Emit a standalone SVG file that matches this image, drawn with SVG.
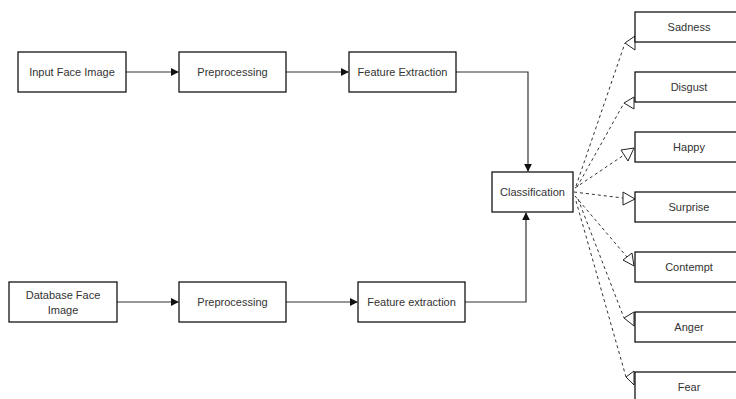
<svg xmlns="http://www.w3.org/2000/svg" width="736" height="399" viewBox="0 0 736 399">
<style>
.box{fill:#fff;stroke:#000;stroke-width:1.2}
.t{font-family:"Liberation Sans",Arial,sans-serif;font-size:11px;fill:#333;text-anchor:middle;dominant-baseline:central}
.c{fill:none;stroke:#333;stroke-width:1.2}
.d{fill:none;stroke:#333;stroke-width:1;stroke-dasharray:3 3}
.h{fill:#fff;stroke:#222;stroke-width:1}
</style>
<defs>
<marker id="a" viewBox="0 0 10 10" refX="9" refY="5" markerWidth="8" markerHeight="8" markerUnits="userSpaceOnUse" orient="auto">
<path d="M0,0 L10,5 L0,10 z" fill="#111"/>
</marker>
</defs>
<rect width="736" height="399" fill="#fff"/>
<g id="connectors">
<path class="c" d="M126,72 H178" marker-end="url(#a)"/>
<path class="c" d="M286,72 H348" marker-end="url(#a)"/>
<path class="c" d="M456,72 H528 V171" marker-end="url(#a)"/>
<path class="c" d="M117,302 H178" marker-end="url(#a)"/>
<path class="c" d="M286,302 H357" marker-end="url(#a)"/>
<path class="c" d="M465,302 H526 V213" marker-end="url(#a)"/>
<path class="d" d="M576,186 L625,43"/>
<path class="d" d="M577,187 L624,103"/>
<path class="d" d="M575,188 L624,155"/>
<path class="d" d="M574,192 L623,198"/>
<path class="d" d="M575,196 L627,257"/>
<path class="d" d="M578,199 L624,318"/>
<path class="d" d="M576,201 L626,377"/>
<polygon class="h" points="625,43 635,36 635,50"/>
<polygon class="h" points="624,103 634,97 634,109"/>
<polygon class="h" points="621,150 634,148 628,161"/>
<polygon class="h" points="623,192 635,199 623,205"/>
<polygon class="h" points="623,260 632,253 634,266"/>
<polygon class="h" points="624,318 634,312 634,326"/>
<polygon class="h" points="626,377 634,371 634,385"/>
</g>
<g id="input"><rect class="box" x="18" y="52" width="108" height="40"/><text class="t" x="72" y="72">Input Face Image</text></g>
<g id="pre1"><rect class="box" x="179" y="52" width="107" height="40"/><text class="t" x="232.5" y="72">Preprocessing</text></g>
<g id="fe1"><rect class="box" x="349" y="52" width="107" height="40"/><text class="t" x="402.5" y="72">Feature Extraction</text></g>
<g id="db"><rect class="box" x="9" y="282" width="108" height="40"/><text class="t" x="63" y="295">Database Face</text><text class="t" x="63" y="310">Image</text></g>
<g id="pre2"><rect class="box" x="179" y="282" width="107" height="40"/><text class="t" x="232.5" y="302">Preprocessing</text></g>
<g id="fe2"><rect class="box" x="358" y="282" width="107" height="40"/><text class="t" x="411.5" y="302">Feature extraction</text></g>
<g id="cls"><rect class="box" x="492" y="172" width="81" height="40"/><text class="t" x="532.5" y="192">Classification</text></g>
<g id="sadness"><rect class="box" x="635" y="12" width="108" height="30"/><text class="t" x="689" y="27">Sadness</text></g>
<g id="disgust"><rect class="box" x="635" y="72" width="108" height="30"/><text class="t" x="689" y="87">Disgust</text></g>
<g id="happy"><rect class="box" x="635" y="132" width="108" height="30"/><text class="t" x="689" y="147">Happy</text></g>
<g id="surprise"><rect class="box" x="635" y="192" width="108" height="30"/><text class="t" x="689" y="207">Surprise</text></g>
<g id="contempt"><rect class="box" x="635" y="252" width="108" height="30"/><text class="t" x="689" y="267">Contempt</text></g>
<g id="anger"><rect class="box" x="635" y="312" width="108" height="30"/><text class="t" x="689" y="327">Anger</text></g>
<g id="fear"><rect class="box" x="635" y="372" width="108" height="30"/><text class="t" x="689" y="387">Fear</text></g>
</svg>
